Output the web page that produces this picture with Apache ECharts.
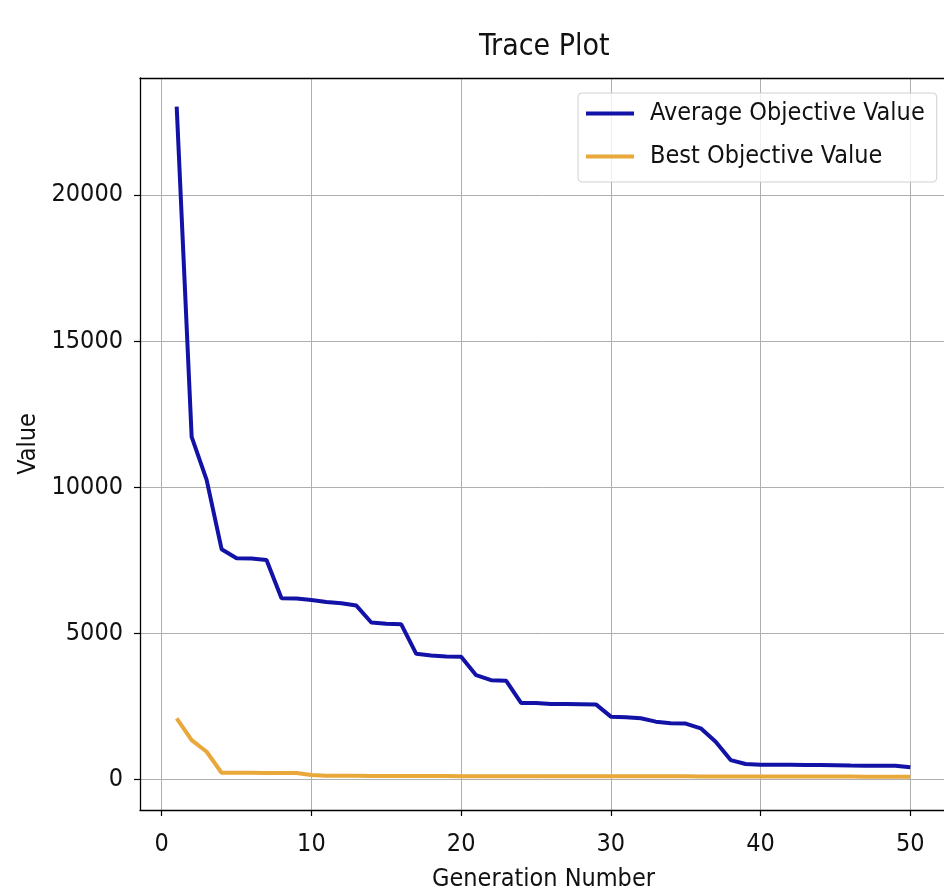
<!DOCTYPE html>
<html>
<head>
<meta charset="utf-8">
<script src="https://cdn.jsdelivr.net/npm/echarts@6/dist/echarts.min.js"></script>
<style>
html,body{margin:0;padding:0;background:#fff;}
#c{width:944px;height:890px;}
</style>
</head>
<body>
<div id="c"></div>
<script>
const generations = [1,2,3,4,5,6,7,8,9,10,11,12,13,14,15,16,17,18,19,20,21,22,23,24,25,26,27,28,29,30,31,32,33,34,35,36,37,38,39,40,41,42,43,44,45,46,47,48,49,50];
const averageObjective = [23020,11720,10250,7880,7570,7560,7510,6200,6190,6140,6070,6030,5950,5370,5330,5310,4300,4240,4210,4200,3570,3400,3380,2620,2615,2585,2580,2575,2570,2150,2130,2095,1980,1925,1915,1750,1290,665,530,506,505,502,498,495,490,478,474,472,470,418];
const bestObjective = [2090,1350,950,232,231,229,227,225,222,155,132,128,125,122,120,119,118,117,116,115,115,114,114,113,113,112,112,111,111,110,110,109,109,108,108,107,107,106,106,105,104,103,102,101,100,99,98,97,96,95];
const xTicks = [0,10,20,30,40,50];
const yTicks = [0,5000,10000,15000,20000];

const FONT = "'DejaVu Sans Condensed', 'DejaVu Sans', sans-serif";
const chart = echarts.init(document.getElementById('c'));
chart.setOption({
  animation: false,
  backgroundColor: '#ffffff',
  textStyle: {fontFamily: FONT},
  title: {
    text: 'Trace Plot',
    left: 479, top: 32, padding: 0,
    textStyle: {fontFamily: FONT, fontSize: 30, fontWeight: 'normal', color: '#111'}
  },
  legend: {
    orient: 'vertical',
    left: 578, top: 93,
    padding: [8, 12, 13, 8],
    itemGap: 18,
    itemWidth: 48, itemHeight: 4,
    icon: 'rect',
    backgroundColor: 'rgba(255,255,255,0.8)',
    borderColor: '#d0d0d0', borderWidth: 1, borderRadius: 4,
    textStyle: {fontFamily: FONT, fontSize: 25, color: '#111', padding: [0,0,0,11]},
    data: ['Average Objective Value', 'Best Objective Value']
  },
  grid: {left: 140, top: 78, width: 807, bottom: 80, show: false, outerBoundsMode: 'none', containLabel: false},
  xAxis: [{
    type: 'value', min: -1.45, max: 52.45, position: 'bottom',
    name: 'Generation Number', nameLocation: 'middle', nameGap: 57,
    nameTextStyle: {fontFamily: FONT, fontSize: 25, color: '#111'},
    axisLine: {show: true, onZero: false, lineStyle: {color: '#000', width: 1.3}},
    axisTick: {show: true, customValues: xTicks, length: 6, lineStyle: {color: '#000', width: 1.2}},
    axisLabel: {customValues: xTicks, margin: 22, fontFamily: FONT, fontSize: 25, color: '#111'},
    splitLine: {show: true, lineStyle: {color: '#b0b0b0', width: 1}}
  }, {
    type: 'value', min: -1.45, max: 52.45, position: 'top',
    axisLine: {show: true, onZero: false, lineStyle: {color: '#000', width: 1.3}},
    axisTick: {show: false}, axisLabel: {show: false}, splitLine: {show: false}
  }],
  yAxis: {
    type: 'value', min: -1043, max: 24000,
    name: 'Value', nameLocation: 'middle', nameGap: 92,
    nameTextStyle: {fontFamily: FONT, fontSize: 25, color: '#111'},
    axisLine: {show: true, onZero: false, lineStyle: {color: '#000', width: 1.3}},
    axisTick: {show: true, customValues: yTicks, length: 6, lineStyle: {color: '#000', width: 1.2}},
    axisLabel: {customValues: yTicks, margin: 17, fontFamily: FONT, fontSize: 25, color: '#111', formatter: v => String(v)},
    splitLine: {show: true, lineStyle: {color: '#b0b0b0', width: 1}}
  },
  series: [
    {
      name: 'Average Objective Value', type: 'line',
      data: generations.map((g, i) => [g, averageObjective[i]]),
      showSymbol: false, symbol: 'none',
      color: '#1212a6',
      lineStyle: {color: '#1212a6', width: 4}
    },
    {
      name: 'Best Objective Value', type: 'line',
      data: generations.map((g, i) => [g, bestObjective[i]]),
      showSymbol: false, symbol: 'none',
      color: '#e8a83a',
      lineStyle: {color: '#e8a83a', width: 4}
    }
  ]
});
</script>
</body>
</html>
